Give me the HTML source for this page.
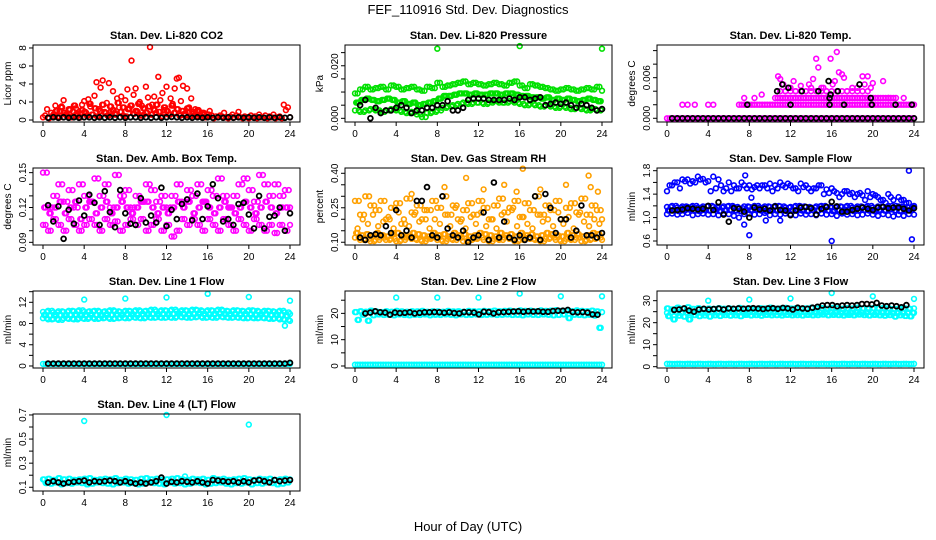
<!DOCTYPE html>
<html><head><meta charset="utf-8"><style>
html,body{margin:0;padding:0;background:#fff;}
svg{display:block;font-family:"Liberation Sans",sans-serif;}
</style></head><body>
<svg id="chart" width="936" height="540" viewBox="0 0 936 540" xmlns="http://www.w3.org/2000/svg">
<text x="468" y="14" text-anchor="middle" font-size="13">FEF_110916  Std. Dev. Diagnostics</text>
<text x="468" y="531" text-anchor="middle" font-size="13">Hour of Day (UTC)</text>
<g id="panels"></g>
</svg>
<script>
// ---------- data ----------
const xTicks = [0,4,8,12,16,20,24];
const panelTitles = ["Stan. Dev. Li-820 CO2","Stan. Dev. Li-820 Pressure","Stan. Dev. Li-820 Temp.","Stan. Dev. Amb. Box Temp.","Stan. Dev. Gas Stream RH","Stan. Dev. Sample Flow","Stan. Dev. Line 1 Flow","Stan. Dev. Line 2 Flow","Stan. Dev. Line 3 Flow","Stan. Dev. Line 4 (LT) Flow"];
const yLabels = ["Licor ppm","kPa","degrees C","degrees C","percent","ml/min","ml/min","ml/min","ml/min","ml/min"];
const yLimits = [[-0.22,8.33],[-0.0014,0.0279],[-0.00055,0.01083],[0.0877,0.154],[0.088,0.423],[0.532,1.846],[-0.38,14.13],[-0.76,28.5],[-0.6,34.4],[0.069,0.708]];
const yTickVals = [[0,2,4,6,8],[0,0.005,0.01,0.015,0.02,0.025],[0,0.002,0.004,0.006,0.008,0.01],[0.09,0.1,0.11,0.12,0.13,0.14,0.15],[0.1,0.15,0.2,0.25,0.3,0.35,0.4],[0.6,0.8,1.0,1.2,1.4,1.6,1.8],[0,2,4,6,8,10,12,14],[0,5,10,15,20,25],[0,5,10,15,20,25,30],[0.1,0.2,0.3,0.4,0.5,0.6,0.7]];
const yTickLabels = [["0","2","4","6","8"],["0.000","","","","0.020",""],["0.000","","","0.006","",""],["0.09","","","0.12","","","0.15"],["0.10","","","0.25","","","0.40"],["0.6","","1.0","","1.4","","1.8"],["0","","4","","8","","12",""],["0","","10","","20",""],["0","","10","","20","","30"],["0.1","","0.3","","0.5","","0.7"]];

// CO2
const co2RedA = [0.3,0.5,1.2,0.2,0.8,0.4,1.6,0.3,1.0,1.5,2.2,0.6,0.4,1.1,0.3,0.9,1.3,0.5,0.7,1.7,2.1,0.8,2.3,1.5,0.6,2.7,4.2,1.2,3.6,4.4,0.9,1.9,4.1,1.0,3.2,0.7,2.4,1.4,2.6,0.5,2.2,3.4,1.3,6.6,2.8,3.5,0.9,2.0,1.6,0.6,3.7,2.5,8.1,1.7,2.6,0.8,4.8,2.2,3.0,1.1,3.7,0.6,2.4,1.8,3.5,4.6,4.7,2.1,3.8,0.5,3.5,1.4,2.4,0.7,1.2,0.4,0.9,0.3,0.6,0.4,0.3,1.0,0.5,0.2,0.4,0.3,0.5,0.4,0.8,0.3,0.2,0.4,0.6,0.3,0.5,0.9,0.3,0.2,0.4,0.3,0.2,0.5,0.3,0.4,0.2,0.6,0.3,0.3,0.5,0.2,0.4,0.3,0.6,0.2,0.3,0.4,0.2,1.7,1.1,1.4,0.3];
const co2RedB = [0.6,1.0,0.3,1.4,0.8,0.5,1.2,0.4,1.6,0.7,0.3,1.1,0.9,0.5,1.8,0.6,1.3,0.4,1.0,1.7,0.8,0.5,1.5,1.1,0.6,1.9,0.9,1.4,0.4,1.2,1.6,0.7,1.0,1.8,0.5,1.3,0.8,1.5,0.6,1.1,1.7,0.9,0.4,1.4,1.0,0.6,1.6,0.8,1.2,0.5,1.0,0.7,1.3,0.4,0.9,0.6,1.1,0.5,0.8,0.3,0.6];
const co2Black = [0.25,0.3,0.25,0.3,0.25,0.3,0.25,0.3,0.3,0.25,0.3,0.25,0.3,0.25,0.3,0.25,0.3,0.3,0.25,0.3,0.25,0.3,0.25,0.3,0.35,0.3,0.25,0.3,0.25,0.3,0.25,0.3,0.25,0.3,0.25,0.3,0.25,0.3,0.25,0.3,0.25,0.3,0.25,0.3,0.25,0.3,0.25,0.3];
// Pressure
const presUpper = [0.0095,0.011,0.012,0.011,0.0115,0.012,0.011,0.0125,0.012,0.011,0.0115,0.012,0.011,0.0105,0.012,0.0115,0.0135,0.012,0.0125,0.013,0.0135,0.014,0.013,0.0135,0.013,0.0125,0.013,0.0135,0.013,0.0125,0.0135,0.014,0.0125,0.0115,0.013,0.0125,0.012,0.0115,0.011,0.0105,0.011,0.0115,0.011,0.0105,0.011,0.0115,0.011,0.012,0.0105];
const presMiddle = [0.006,0.007,0.0075,0.007,0.0065,0.007,0.0075,0.007,0.006,0.0065,0.0055,0.006,0.005,0.0055,0.006,0.0065,0.0075,0.0085,0.0085,0.009,0.0095,0.0095,0.009,0.0095,0.009,0.009,0.0095,0.0095,0.009,0.0095,0.0095,0.009,0.0085,0.0085,0.008,0.008,0.0075,0.008,0.007,0.0075,0.007,0.0075,0.007,0.0065,0.007,0.0075,0.007,0.0065,0.006];
const presLower = [0.003,0.0025,0.003,0.0035,0.003,0.0025,0.003,0.0035,0.003,0.0025,0.002,0.0025,0.0015,0.0005,0.002,0.0025,0.003,0.004,0.0045,0.005,0.0055,0.006,0.0055,0.006,0.006,0.0055,0.006,0.0065,0.006,0.006,0.0065,0.006,0.0055,0.005,0.0055,0.005,0.0045,0.005,0.0045,0.004,0.0045,0.004,0.0035,0.004,0.0035,0.003,0.0035,0.003,0.0035];
const presOutX = [8,16,24];
const presOutY = [0.0265,0.0275,0.0265];
const presBlack = [0.005,0.007,0.0,0.004,0.002,0.003,0.003,0.004,0.005,0.004,0.002,0.003,0.003,0.004,0.004,0.005,0.005,0.0065,0.003,0.003,0.004,0.007,0.0075,0.0075,0.0075,0.007,0.007,0.007,0.007,0.0075,0.007,0.008,0.008,0.007,0.0075,0.008,0.005,0.0055,0.006,0.0055,0.006,0.005,0.004,0.0055,0.005,0.004,0.003,0.0035];
// Li-820 Temp
const tempZero = [0,0,0,0,0,0,0,0,0,0,0,0,0,0,0,0,0,0,0,0,0,0,0,0,0,0,0,0,0,0,0,0,0,0,0,0,0,0,0,0,0,0,0,0,0,0,0,0,0];
const tempLow = [0.002,0.002,0.002,0.002,0.002,0.002,0.002,0.002,0.002,0.002,0.002,0.002,0.002,0.002,0.002,0.002,0.002,0.002,0.002,0.002,0.002,0.002,0.002,0.002,0.002,0.002,0.002,0.002,0.002,0.002,0.002,0.002,0.002,0.002,0.002];
const tempMid = [0.003,0.003,0.003,0.003,0.003,0.003,0.003,0.003,0.003,0.003,0.003,0.003,0.003,0.003,0.003,0.003,0.003,0.003,0.003,0.003,0.003,0.003,0.003,0.003];
const tempMid2 = [0.004,0.004,0.004,0.004,0.004,0.004,0.004,0.004,0.004,0.004,0.004,0.004,0.004,0.004,0.004,0.004,0.004,0.004];
const tempSpX = [1.5,2,2.7,4,4.5,10.8,11,11.2,11.5,12,12.5,13,13.5,14,14.5,14.7,15,15.5,15.9,16.3,16.5,16.7,17,17.5,18.5,19,19.5,20,21,21.5,23,11.3,12.3,13.8,14.2,15.2,16.1,17.2,18,19.2,19.8,7.5,8.5,9.2];
const tempSpY = [0.002,0.002,0.002,0.002,0.002,0.0062,0.0058,0.005,0.004,0.0045,0.004,0.0048,0.004,0.0045,0.0088,0.0075,0.0045,0.004,0.0088,0.0055,0.0098,0.0068,0.0065,0.004,0.0045,0.0062,0.0062,0.0052,0.0055,0.003,0.003,0.005,0.0055,0.005,0.0058,0.0045,0.005,0.006,0.0045,0.005,0.0045,0.003,0.003,0.0035];
const tempBlackZero = [0,0,0,0,0,0,0,0,0,0,0,0,0,0,0,0,0,0,0,0,0,0,0,0,0,0,0,0,0,0,0,0,0,0,0,0,0,0,0,0,0,0,0,0,0,0,0,0];
const tempBlackX = [7.8,10.7,11.2,11.8,12,13.1,14.7,15.7,15.8,15.8,15.9,16.6,17.2,18.7,19.8,19.9,22.2,23.8];
const tempBlackY = [0.002,0.004,0.005,0.0045,0.002,0.004,0.004,0.0055,0.003,0.002,0.0035,0.004,0.002,0.005,0.003,0.002,0.002,0.002];
// Amb box temp
const ambA = [0.15,0.12,0.13,0.14,0.125,0.135,0.12,0.14,0.13,0.125,0.145,0.13,0.14,0.12,0.148,0.13,0.135,0.12,0.13,0.125,0.14,0.135,0.125,0.13,0.12,0.13,0.14,0.125,0.135,0.13,0.14,0.125,0.135,0.13,0.145,0.13,0.12,0.13,0.14,0.145,0.135,0.125,0.148,0.14,0.13,0.14,0.13,0.135,0.12];
const ambB = [0.12,0.115,0.12,0.125,0.115,0.12,0.125,0.11,0.12,0.125,0.115,0.12,0.125,0.115,0.12,0.125,0.12,0.115,0.12,0.125,0.125,0.12,0.115,0.12,0.115,0.12,0.125,0.12,0.125,0.115,0.12,0.125,0.12,0.115,0.12,0.125,0.12,0.115,0.12,0.125,0.12,0.115,0.12,0.125,0.12,0.115,0.12,0.12,0.115];
const ambC = [0.105,0.1,0.11,0.105,0.1,0.11,0.105,0.1,0.105,0.11,0.105,0.1,0.11,0.105,0.108,0.1,0.105,0.11,0.105,0.11,0.1,0.105,0.11,0.1,0.105,0.095,0.1,0.11,0.105,0.11,0.105,0.1,0.11,0.105,0.1,0.11,0.105,0.1,0.11,0.105,0.1,0.11,0.105,0.1,0.105,0.098,0.105,0.1,0.105];
const ambBlack = [0.122,0.108,0.121,0.093,0.118,0.106,0.126,0.113,0.131,0.124,0.105,0.134,0.116,0.103,0.135,0.115,0.106,0.105,0.128,0.107,0.113,0.107,0.137,0.104,0.118,0.11,0.123,0.127,0.109,0.132,0.11,0.121,0.14,0.128,0.108,0.11,0.105,0.123,0.124,0.114,0.102,0.13,0.102,0.112,0.113,0.12,0.1,0.115];
// RH
const rhLow1 = [0.12,0.11,0.115,0.105,0.11,0.12,0.11,0.115,0.105,0.11,0.12,0.115,0.11,0.105,0.115,0.12,0.11,0.105,0.115,0.11,0.12,0.105,0.11,0.115,0.12,0.11,0.105,0.115,0.11,0.12,0.115,0.105,0.11,0.12,0.115,0.11,0.105,0.115,0.12,0.11,0.105,0.115,0.11,0.12,0.105,0.11,0.115,0.12,0.11];
const rhLow2 = [0.14,0.13,0.135,0.125,0.14,0.13,0.125,0.135,0.14,0.13,0.125,0.14,0.135,0.13,0.125,0.14,0.13,0.135,0.125,0.14,0.13,0.135,0.125,0.13,0.14,0.135,0.13,0.125,0.14,0.13,0.135,0.125,0.14,0.13,0.135,0.125,0.13,0.14,0.135,0.13,0.125,0.14,0.13,0.135,0.125,0.13,0.14,0.135,0.13];
const rhHigh1 = [0.28,0.22,0.3,0.26,0.24,0.28,0.2,0.25,0.27,0.18,0.29,0.23,0.26,0.2,0.24,0.28,0.25,0.3,0.22,0.26,0.2,0.24,0.27,0.22,0.28,0.25,0.2,0.26,0.29,0.23,0.25,0.28,0.21,0.27,0.24,0.3,0.22,0.26,0.24,0.28,0.2,0.25,0.27,0.23,0.29,0.22,0.26,0.24,0.2];
const rhHigh2 = [0.16,0.2,0.18,0.22,0.17,0.19,0.21,0.16,0.23,0.2,0.17,0.22,0.19,0.24,0.16,0.2,0.18,0.22,0.17,0.25,0.19,0.16,0.21,0.18,0.23,0.17,0.2,0.16,0.22,0.19,0.24,0.17,0.21,0.18,0.16,0.22,0.19,0.2,0.17,0.23,0.18,0.21,0.16,0.22,0.19,0.17,0.2,0.18,0.16];
const rhOutX = [5.5,8.7,10.8,12.5,14.5,15.7,16.3,18,20.5,22.7,22.9,23.6];
const rhOutY = [0.31,0.34,0.38,0.33,0.35,0.32,0.42,0.33,0.35,0.39,0.34,0.32];
const rhBlack = [0.12,0.11,0.13,0.135,0.13,0.17,0.14,0.24,0.13,0.15,0.12,0.28,0.28,0.34,0.13,0.12,0.3,0.16,0.13,0.12,0.15,0.1,0.12,0.13,0.23,0.11,0.36,0.12,0.19,0.12,0.11,0.13,0.11,0.12,0.3,0.11,0.31,0.25,0.14,0.2,0.2,0.12,0.15,0.26,0.13,0.13,0.12,0.14];
// Sample flow
const sfUp1 = [1.45,1.55,1.6,1.65,1.65,1.62,1.7,1.66,1.62,1.7,1.65,1.45,1.6,1.55,1.5,1.55,1.55,1.52,1.5,1.55,1.58,1.55,1.6,1.52,1.55,1.5,1.58,1.55,1.45,1.5,1.55,1.48,1.5,1.42,1.4,1.45,1.42,1.4,1.38,1.45,1.4,1.35,1.3,1.4,1.3,1.35,1.3,1.25,1.2];
const sfUp2 = [1.55,1.6,1.5,1.62,1.58,1.6,1.65,1.6,1.45,1.5,1.55,1.5,1.45,1.5,1.6,1.5,1.48,1.55,1.55,1.5,1.45,1.5,1.55,1.58,1.5,1.45,1.52,1.5,1.5,1.55,1.4,1.42,1.45,1.35,1.45,1.4,1.35,1.42,1.3,1.35,1.38,1.3,1.25,1.35,1.2,1.3,1.25,1.15,1.25];
const sfLow1 = [1.18,1.2,1.17,1.19,1.18,1.2,1.17,1.19,1.2,1.18,1.17,1.19,1.2,1.18,1.16,1.19,1.18,1.2,1.17,1.19,1.18,1.2,1.19,1.17,1.18,1.2,1.19,1.18,1.17,1.19,1.2,1.18,1.17,1.19,1.18,1.2,1.17,1.19,1.18,1.2,1.17,1.19,1.18,1.2,1.17,1.19,1.18,1.17,1.19];
const sfLow2 = [1.12,1.13,1.11,1.12,1.14,1.12,1.11,1.13,1.12,1.14,1.11,1.12,1.13,1.12,1.11,1.13,1.12,1.14,1.12,1.11,1.13,1.12,1.14,1.11,1.12,1.13,1.12,1.11,1.13,1.12,1.14,1.12,1.11,1.13,1.12,1.14,1.11,1.12,1.13,1.12,1.11,1.13,1.12,1.14,1.12,1.11,1.13,1.12,1.13];
const sfLow3 = [1.06,1.07,1.05,1.06,1.08,1.04,1.06,1.07,1.05,1.06,1.04,1.07,1.06,1.03,1.0,1.06,1.07,1.05,1.06,1.08,1.04,1.06,1.05,1.07,1.06,1.04,1.07,1.05,1.06,1.04,1.07,1.05,1.06,1.03,1.07,1.05,1.06,1.04,1.05,1.07,1.05,1.03,1.06,1.04,1.02,1.05,1.03,1.06,1.05];
const sfOutX = [7.5,8,8.2,11,16,23.5,23.8,9.6,7.6];
const sfOutY = [0.88,0.7,1.34,0.95,0.6,1.8,0.63,0.95,1.72];
const sfBlack = [1.12,1.13,1.14,1.16,1.15,1.14,1.15,1.2,1.13,1.26,1.05,0.93,1.16,1.15,1.1,1.0,1.17,1.14,1.15,1.12,1.19,1.13,1.12,1.04,1.12,1.17,1.18,1.16,1.05,1.15,1.18,1.27,1.19,1.1,1.1,1.13,1.15,1.17,1.15,1.13,1.17,1.18,1.16,1.17,1.17,1.15,1.12,1.16];
// Line 1
const l1Up = [10.2,10.4,10.1,10.3,10.2,10.4,10.3,10.5,10.2,10.3,10.4,10.2,10.3,10.5,10.3,10.2,10.4,10.3,10.5,10.3,10.4,10.6,10.3,10.5,10.4,10.6,10.3,10.5,10.4,10.6,10.5,10.3,10.5,10.4,10.6,10.4,10.3,10.5,10.4,10.3,10.5,10.4,10.2,10.4,10.3,10.2,10.4,10.1,9.8];
const l1Mid = [9.6,9.5,9.7,9.6,9.5,9.6,9.7,9.5,9.6,9.7,9.6,9.5,9.7,9.6,9.7,9.6,9.8,9.7,9.6,9.8,9.7,9.8,9.7,9.8,9.7,9.8,9.9,9.8,9.7,9.8,9.9,9.8,9.7,9.8,9.9,9.8,9.7,9.8,9.7,9.8,9.7,9.6,9.7,9.8,9.6,9.7,9.6,9.5,9.2];
const l1Low = [9.0,8.8,8.9,8.7,9.0,8.9,8.8,9.0,8.9,9.1,8.9,9.0,9.1,8.9,9.0,9.1,9.0,9.2,9.1,9.0,9.2,9.1,9.2,9.1,9.2,9.1,9.3,9.2,9.1,9.2,9.3,9.1,9.2,9.1,9.3,9.2,9.1,9.2,9.1,9.0,9.1,9.0,9.1,9.0,8.9,9.0,8.8,8.7,8.5];
const l1Base = [0.4,0.4,0.4,0.4,0.4,0.4,0.4,0.4,0.4,0.4,0.4,0.4,0.4,0.4,0.4,0.4,0.4,0.4,0.4,0.4,0.4,0.4,0.4,0.4,0.4,0.4,0.4,0.4,0.4,0.4,0.4,0.4,0.4,0.4,0.4,0.4,0.4,0.4,0.4,0.4,0.4,0.4,0.4,0.4,0.4,0.4,0.4,0.4,0.4];
const l1OutX = [4,8,12,16,20,24,23.5];
const l1OutY = [12.5,12.7,12.9,13.6,13.0,12.3,7.6];
const l1Black = [0.45,0.45,0.45,0.45,0.45,0.45,0.45,0.45,0.45,0.45,0.45,0.45,0.45,0.45,0.45,0.45,0.45,0.45,0.45,0.45,0.45,0.45,0.45,0.45,0.45,0.45,0.45,0.45,0.45,0.45,0.45,0.45,0.45,0.45,0.45,0.45,0.45,0.45,0.45,0.45,0.45,0.45,0.45,0.45,0.45,0.45,0.45,0.6];
// Line 2
const l2Up = [20.5,20.8,20.6,21.0,20.7,20.5,20.8,20.6,20.9,20.7,20.6,20.8,20.7,20.9,20.6,20.8,20.7,20.6,20.9,20.7,20.8,20.6,20.9,20.8,20.7,20.9,20.8,21.0,20.8,20.9,21.0,20.8,21.1,20.9,21.0,20.8,21.1,20.9,21.0,21.2,20.9,21.0,20.8,21.1,20.9,20.8,21.0,20.7,20.5];
const l2Low = [17.5,19.5,17.2,19.3,19.6,19.4,19.5,19.3,19.6,19.4,19.3,19.5,19.4,19.6,19.3,19.5,19.4,19.6,19.5,19.3,19.6,19.4,19.5,19.6,19.4,19.5,19.6,19.4,19.5,19.6,19.4,19.5,19.3,19.6,19.5,19.4,19.6,19.5,19.3,19.4,19.6,18.2,19.5,19.4,19.3,19.5,19.2,14.5,13.0];
const l2Base = [0.5,0.5,0.5,0.5,0.5,0.5,0.5,0.5,0.5,0.5,0.5,0.5,0.5,0.5,0.5,0.5,0.5,0.5,0.5,0.5,0.5,0.5,0.5,0.5,0.5,0.5,0.5,0.5,0.5,0.5,0.5,0.5,0.5,0.5,0.5,0.5,0.5,0.5,0.5,0.5,0.5,0.5,0.5,0.5,0.5,0.5,0.5,0.5,0.5];
const l2OutX = [4,8,12,16,20,24];
const l2OutY = [26,26,26,27.5,26.5,26.5];
const l2Black = [20.0,20.3,20.8,20.4,20.3,19.5,20.3,20.1,20.2,20.4,20.0,20.2,20.4,20.4,20.5,20.4,20.2,20.4,20.1,20.0,20.5,20.4,20.3,19.6,20.6,20.5,20.0,20.4,20.5,20.6,20.7,20.8,20.6,20.8,20.7,20.8,20.6,20.6,20.9,21.0,21.0,21.3,20.5,20.4,20.5,20.3,19.6,19.5];
// Line 3
const l3Up = [26.5,26.0,26.8,26.3,27.0,26.2,26.6,26.0,26.4,26.2,26.6,26.3,26.5,26.1,26.7,26.3,26.5,26.2,26.6,26.4,26.8,26.3,26.5,26.7,26.4,26.6,26.2,26.5,26.8,26.4,26.6,26.3,26.7,26.5,26.3,26.6,26.4,26.8,26.5,26.3,26.6,26.4,26.7,26.5,26.2,26.4,26.6,26.3,26.5];
const l3Low = [23.0,21.5,23.2,22.8,21.5,23.5,23.0,23.3,22.8,23.4,23.1,23.5,23.2,23.4,23.0,23.6,23.3,23.5,23.2,23.6,23.4,23.5,23.3,23.6,23.4,23.5,23.3,23.6,23.4,23.5,23.7,23.4,23.6,23.5,23.3,23.6,23.4,23.7,23.5,23.3,23.6,23.4,23.2,23.5,22.8,23.4,23.1,22.9,24.0];
const l3Mid = [24.5,24.8,24.4,24.6,24.3,24.7,24.5,24.4,24.8,24.5,24.6,24.4,24.7,24.5,24.6,24.3,24.7,24.5,24.4,24.6,24.5,24.7,24.4,24.6,24.5,24.4,24.7,24.5,24.6,24.4,24.5,24.7,24.4,24.6,24.5,24.3,24.6,24.5,24.4,24.7,24.5,24.6,24.4,24.5,24.3,24.5,24.4,24.6,24.5];
const l3Base = [1.3,1.2,1.3,1.2,1.3,1.2,1.3,1.2,1.3,1.2,1.3,1.2,1.3,1.2,1.3,1.2,1.3,1.2,1.3,1.2,1.3,1.2,1.3,1.2,1.3,1.2,1.3,1.2,1.3,1.2,1.3,1.2,1.3,1.2,1.3,1.2,1.3,1.2,1.3,1.2,1.3,1.2,1.3,1.2,1.3,1.2,1.3,1.2,1.3];
const l3OutX = [4,8,12,16,20,24];
const l3OutY = [30,30.5,31,33.5,32,30.8];
const l3Black = [25.8,26.0,26.5,25.5,25.0,26.0,26.3,26.0,26.2,26.4,26.0,26.5,26.3,26.5,26.3,26.5,26.6,26.4,26.2,26.5,26.6,26.3,26.7,26.5,26.0,26.8,26.5,26.3,26.8,27.2,27.8,28.0,28.0,27.5,27.8,28.0,27.8,28.0,28.5,28.5,28.3,29.0,27.8,27.5,27.8,27.5,27.0,28.0];
// Line 4
const l4Up = [0.165,0.17,0.16,0.175,0.165,0.17,0.16,0.165,0.17,0.175,0.16,0.165,0.17,0.165,0.175,0.16,0.17,0.165,0.16,0.17,0.175,0.165,0.17,0.16,0.165,0.17,0.175,0.165,0.16,0.17,0.165,0.17,0.16,0.175,0.165,0.17,0.16,0.165,0.17,0.175,0.165,0.16,0.17,0.165,0.17,0.16,0.165,0.17,0.165];
const l4Low = [0.135,0.13,0.14,0.125,0.135,0.13,0.14,0.135,0.125,0.13,0.14,0.135,0.13,0.125,0.135,0.14,0.13,0.135,0.125,0.13,0.14,0.135,0.13,0.125,0.14,0.13,0.135,0.125,0.13,0.14,0.135,0.125,0.13,0.135,0.14,0.13,0.125,0.135,0.13,0.14,0.125,0.135,0.13,0.14,0.135,0.125,0.13,0.14,0.135];
const l4OutX = [4,12,20,13.8];
const l4OutY = [0.65,0.70,0.62,0.19];
const l4Black = [0.14,0.15,0.14,0.13,0.14,0.145,0.15,0.155,0.14,0.15,0.145,0.15,0.155,0.15,0.14,0.15,0.14,0.13,0.14,0.13,0.14,0.15,0.18,0.13,0.145,0.14,0.15,0.145,0.14,0.15,0.14,0.13,0.16,0.155,0.15,0.145,0.15,0.14,0.15,0.14,0.155,0.16,0.15,0.14,0.16,0.15,0.155,0.16];

const C_RED="#ff0000", C_GRN="#00e000", C_MAG="#ff00ff", C_ORG="#ffa000", C_BLU="#0000ff", C_CYN="#00ffff", C_BLK="#000000";
// series per panel: [color, x0, dx, values] or [color, xs, ys]
const panelSeries = [
 [[C_RED,0,0.2,co2RedA],[C_RED,1,0.25,co2RedB],[C_RED,1.12,0.25,co2RedB],[C_BLK,0.5,0.5,co2Black]],
 [[C_GRN,0,0.5,presUpper],[C_GRN,0.25,0.5,presMiddle],[C_GRN,0,0.5,presLower],[C_GRN,0.25,0.5,presUpper],[C_GRN,0.12,0.5,presMiddle],[C_GRN,0.37,0.5,presLower],[C_GRN,0.37,0.5,presMiddle],[C_GRN,presOutX,presOutY],[C_BLK,0.5,0.5,presBlack]],
 [[C_MAG,0,0.5,tempZero],[C_MAG,0.25,0.5,tempZero],[C_MAG,7,0.5,tempLow],[C_MAG,7.25,0.5,tempLow],[C_MAG,10.5,0.5,tempMid],[C_MAG,10.75,0.5,tempMid],[C_MAG,11,0.5,tempMid2],[C_MAG,tempSpX,tempSpY],[C_BLK,0.5,0.5,tempBlackZero],[C_BLK,tempBlackX,tempBlackY]],
 [[C_MAG,0,0.5,ambA],[C_MAG,0.25,0.5,ambB],[C_MAG,0,0.5,ambC],[C_MAG,0.25,0.5,ambC],[C_MAG,0.12,0.5,ambB],[C_MAG,0.37,0.5,ambA],[C_BLK,0.5,0.5,ambBlack]],
 [[C_ORG,0,0.5,rhLow1],[C_ORG,0.25,0.5,rhLow2],[C_ORG,0.12,0.5,rhLow2],[C_ORG,0.37,0.5,rhLow1],[C_ORG,0,0.5,rhHigh1],[C_ORG,0.25,0.5,rhHigh2],[C_ORG,0.37,0.5,rhHigh1],[C_ORG,rhOutX,rhOutY],[C_BLK,0.5,0.5,rhBlack]],
 [[C_BLU,0,0.5,sfUp1],[C_BLU,0.25,0.5,sfUp2],[C_BLU,0,0.5,sfLow1],[C_BLU,0.25,0.5,sfLow2],[C_BLU,0,0.5,sfLow3],[C_BLU,0.12,0.5,sfLow2],[C_BLU,0.37,0.5,sfLow1],[C_BLU,sfOutX,sfOutY],[C_BLK,0.5,0.5,sfBlack]],
 [[C_CYN,0,0.5,l1Up],[C_CYN,0.25,0.5,l1Mid],[C_CYN,0,0.5,l1Low],[C_CYN,0.12,0.5,l1Mid],[C_CYN,0.37,0.5,l1Low],[C_CYN,0.37,0.5,l1Up],[C_CYN,0,0.5,l1Base],[C_CYN,0.25,0.5,l1Base],[C_CYN,l1OutX,l1OutY],[C_BLK,0.5,0.5,l1Black]],
 [[C_CYN,0,0.5,l2Up],[C_CYN,0.25,0.5,l2Low],[C_CYN,0.12,0.5,l2Up],[C_CYN,0.37,0.5,l2Low],[C_CYN,0,0.5,l2Base],[C_CYN,0.25,0.5,l2Base],[C_CYN,l2OutX,l2OutY],[C_BLK,1,0.48,l2Black]],
 [[C_CYN,0,0.5,l3Up],[C_CYN,0.25,0.5,l3Low],[C_CYN,0,0.5,l3Mid],[C_CYN,0.12,0.5,l3Up],[C_CYN,0.37,0.5,l3Mid],[C_CYN,0.12,0.5,l3Low],[C_CYN,0,0.5,l3Base],[C_CYN,0.25,0.5,l3Base],[C_CYN,l3OutX,l3OutY],[C_BLK,0.7,0.48,l3Black]],
 [[C_CYN,0,0.5,l4Up],[C_CYN,0.25,0.5,l4Low],[C_CYN,0.12,0.5,l4Up],[C_CYN,0.37,0.5,l4Low],[C_CYN,l4OutX,l4OutY],[C_BLK,0.5,0.5,l4Black]]
];

// ---------- drawing ----------
const NS="http://www.w3.org/2000/svg";
const root=document.getElementById('panels');
function mk(tag,attrs,parent){const e=document.createElementNS(NS,tag);for(const k in attrs)e.setAttribute(k,attrs[k]);parent.appendChild(e);return e;}
const BOX_W=267, BOX_H=77;
for(let p=0;p<10;p++){
  const col=p%3,row=Math.floor(p/3);
  const L=33+312*col, T=45+123*row, R=L+BOX_W, B=T+BOX_H;
  const g=mk('g',{},root);
  
  
  const xs=v=>L+10+(v/24)*(BOX_W-20);
  const [ylo,yhi]=yLimits[p];
  const ys=v=>B-(v-ylo)/(yhi-ylo)*BOX_H;
  const title=mk('text',{x:(L+R)/2,y:T-6,'text-anchor':'middle','font-size':'11','font-weight':'bold'},g);
  title.textContent=panelTitles[p];
  
  
  const pts=mk('g',{fill:'none'},g);
  
  
  panelSeries[p].forEach(s=>{
    let X=[],Y=[];
    if(Array.isArray(s[1])){X=s[1];Y=s[2];}
    else{const x0=s[1],dx=s[2];Y=s[3];X=Y.map((_,i)=>x0+i*dx);}
    for(let i=0;i<Y.length;i++){
      if(X[i]>24.05)continue;
      const c=mk('circle',{cx:xs(X[i]).toFixed(1),cy:ys(Y[i]).toFixed(1),r:2.4,stroke:s[0],'stroke-width':s[0]===C_BLK?1.8:1.6},pts);
      
      
    }
  });
  const box=mk('rect',{x:L,y:T,width:BOX_W,height:BOX_H,fill:'none',stroke:'#000','stroke-width':1},g);
  
  
  const xa=mk('g',{},g);
  
  
  xTicks.forEach(t=>{
    mk('line',{x1:xs(t),x2:xs(t),y1:B,y2:B+4,stroke:'#000'},xa);
    const tx=mk('text',{x:xs(t),y:B+15,'text-anchor':'middle','font-size':'10'},xa);
    tx.textContent=t;
  });
  mk('line',{x1:xs(0),x2:xs(24),y1:B,y2:B,stroke:'#000'},xa);
  const ya=mk('g',{},g);
  
  
  const tv=yTickVals[p];
  tv.forEach((t,i)=>{
    const y=ys(t);
    mk('line',{x1:L-4,x2:L,y1:y,y2:y,stroke:'#000'},ya);
    const lab=yTickLabels[p][i];
    if(lab){const tx=mk('text',{x:L-7,y:y,'text-anchor':'middle','font-size':'10',transform:`rotate(-90 ${L-7} ${y})`},ya);tx.textContent=lab;}
  });
  mk('line',{x1:L,x2:L,y1:ys(tv[0]),y2:ys(tv[tv.length-1]),stroke:'#000'},ya);
  const yl=mk('text',{x:L-22,y:(T+B)/2,'text-anchor':'middle','font-size':'10',transform:`rotate(-90 ${L-22} ${(T+B)/2})`},g);
  yl.textContent=yLabels[p];
  
  
}
</script>
</body></html>
